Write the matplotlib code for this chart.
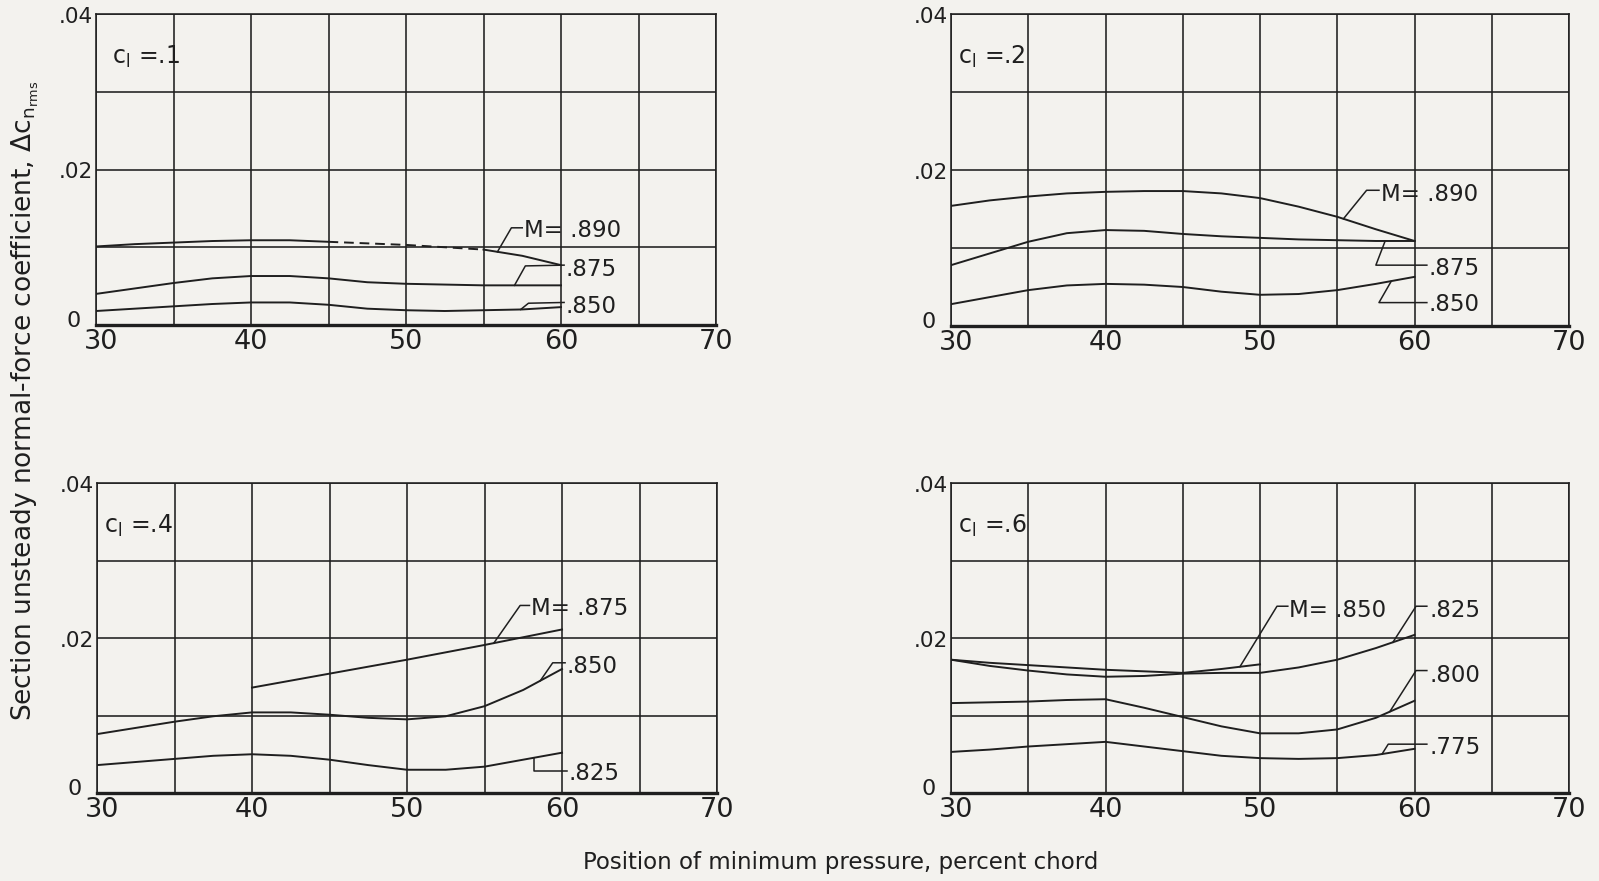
import numpy as np
import matplotlib
matplotlib.use("Agg")
import matplotlib.pyplot as plt
from matplotlib.transforms import blended_transform_factory, ScaledTranslation

plt.rcParams["font.family"] = ["DejaVu Sans"]
plt.rcParams["mathtext.fontset"] = "dejavusans"

# ---- data: position of minimum pressure (percent chord) vs. delta c_n,rms ----
x_pos = [30, 32.5, 35, 37.5, 40, 42.5, 45, 47.5, 50, 52.5, 55, 57.5, 60]

# c_l = .1
cl1_m890 = [.0101, .0104, .0106, .0108, .0109, .0109, .0107, .0105, .0103, .0100, .0097, .0089, .0077]
cl1_m875 = [.0040, .0047, .0054, .0060, .0063, .0063, .0060, .0055, .0053, .0052, .0051, .0051, .0051]
cl1_m850 = [.0018, .0021, .0024, .0027, .0029, .0029, .0026, .0021, .0019, .0018, .0019, .0020, .0023]

# c_l = .2
cl2_m890 = [.0154, .0161, .0166, .0170, .0172, .0173, .0173, .0170, .0164, .0153, .0140, .0124, .0109]
cl2_m875 = [.0078, .0093, .0108, .0119, .0123, .0122, .0118, .0115, .0113, .0111, .0110, .0109, .0109]
cl2_m850 = [.0028, .0037, .0046, .0052, .0054, .0053, .0050, .0044, .0040, .0041, .0046, .0054, .0063]

# c_l = .4
cl4_m875_x = [40, 45, 50, 55, 60]
cl4_m875 = [.0136, .0154, .0172, .0191, .0211]
cl4_m850 = [.0076, .0084, .0092, .0099, .0104, .0104, .0101, .0097, .0095, .0099, .0112, .0133, .0160]
cl4_m825 = [.0036, .0040, .0044, .0048, .0050, .0048, .0043, .0036, .0030, .0030, .0034, .0043, .0052]

# c_l = .6
cl6_m850_x = [30, 32.5, 35, 37.5, 40, 42.5, 45, 47.5, 50]
cl6_m850 = [.0172, .0168, .0165, .0162, .0159, .0157, .0155, .0160, .0166]
cl6_m825 = [.0172, .0164, .0158, .0153, .0150, .0151, .0154, .0155, .0155, .0162, .0172, .0187, .0204]
cl6_m800 = [.0116, .0117, .0118, .0120, .0121, .0110, .0098, .0086, .0077, .0077, .0082, .0097, .0119]
cl6_m775 = [.0053, .0056, .0060, .0063, .0066, .0060, .0054, .0048, .0045, .0044, .0045, .0049, .0057]

panel_titles = ["c$_\\mathregular{l}$ =.1", "c$_\\mathregular{l}$ =.2",
                "c$_\\mathregular{l}$ =.4", "c$_\\mathregular{l}$ =.6"]
x_ticks = [30, 35, 40, 45, 50, 55, 60, 65, 70]
x_tick_labels = ["30", "", "40", "", "50", "", "60", "", "70"]
y_ticks = [0, .01, .02, .03, .04]
y_tick_labels = ["0", "", ".02", "", ".04"]

# ---- styling / layout ----
INK = "#1f1f1f"
PAPER = "#f3f2ee"
W, H = 1599, 881
fig = plt.figure(figsize=(W / 100, H / 100), dpi=100, facecolor=PAPER)


def px(dx, dy):
    return ScaledTranslation(dx / 100, dy / 100, fig.dpi_scale_trans)


# axes rectangles in pixels: left, top, right, bottom
rects = [(96, 14, 716, 325), (951, 14, 1569, 326),
         (97, 483, 717, 793), (951, 483, 1569, 793)]

# series per panel: (x, y, label, label_xy, leader_points, leader_target_x, dashed_span)
panels = [
    [(x_pos, cl1_m890, "M= .890", (57.6, .0122), [(57.5, .0125), (56.8, .0125)], 55.9, (45, 55)),
     (x_pos, cl1_m875, ".875", (60.3, .0071), [(60.2, .0077), (57.7, .0076)], 57.0, None),
     (x_pos, cl1_m850, ".850", (60.3, .0024), [(60.2, .0029), (57.9, .0028)], 57.4, None)],
    [(x_pos, cl2_m890, "M= .890", (57.8, .0168), [(57.7, .0174), (56.9, .0174)], 55.4, None),
     (x_pos, cl2_m875, ".875", (60.9, .0074), [(60.8, .0078), (57.5, .0078)], 58.1, None),
     (x_pos, cl2_m850, ".850", (60.9, .0027), [(60.8, .0030), (57.7, .0030)], 58.5, None)],
    [(cl4_m875_x, cl4_m875, "M= .875", (58.0, .0238), [(57.9, .0242), (57.3, .0242)], 55.6, None),
     (x_pos, cl4_m850, ".850", (60.3, .0163), [(60.2, .0168), (59.4, .0168)], 58.6, None),
     (x_pos, cl4_m825, ".825", (60.4, .0025), [(60.3, .0029), (58.2, .0029)], 58.2, None)],
    [(cl6_m850_x, cl6_m850, "M= .850", (51.9, .0236), [(51.8, .0241), (51.1, .0241)], 48.7, None),
     (x_pos, cl6_m825, ".825", (61.0, .0236), [(60.8, .0241), (60.1, .0241)], 58.6, None),
     (x_pos, cl6_m800, ".800", (61.0, .0152), [(60.8, .0158), (60.1, .0158)], 58.4, None),
     (x_pos, cl6_m775, ".775", (61.0, .0059), [(60.8, .0063), (58.3, .0063)], 57.9, None)],
]
title_x = [31.0, 30.45, 30.45, 30.45]

for i, (l, t, r, b) in enumerate(rects):
    ax = fig.add_axes([l / W, 1 - b / H, (r - l) / W, (b - t) / H])
    ax.set_facecolor("none")
    ax.set_xlim(30, 70)
    ax.set_ylim(0, .04)
    ax.set_xticks(x_ticks)
    ax.set_yticks(y_ticks)
    ax.set_xticklabels([])
    ax.set_yticklabels([])
    ax.tick_params(length=0)
    ax.grid(True, color=INK, lw=1.15)
    ax.set_axisbelow(True)
    for side in ["top", "left", "right"]:
        ax.spines[side].set_color(INK)
        ax.spines[side].set_linewidth(1.15)
    ax.spines["bottom"].set_color(INK)
    ax.spines["bottom"].set_linewidth(2.4)

    # tick labels
    ty = blended_transform_factory(ax.transAxes, ax.transData)
    for v, lab in zip(y_ticks, y_tick_labels):
        if not lab:
            continue
        if v == 0:
            ax.text(0, v, lab, transform=ty + px(-15, 4), ha="right", va="center",
                    fontsize=16, color=INK)
        else:
            ax.text(0, v, lab, transform=ty + px(-3, -3), ha="right", va="center",
                    fontsize=15.5, color=INK)
    tx = blended_transform_factory(ax.transData, ax.transAxes)
    for v, lab in zip(x_ticks, x_tick_labels):
        if not lab:
            continue
        dx = 5 if v == 30 else 0
        ax.text(v, 0, lab, transform=tx + px(dx, -4), ha="center", va="top",
                fontsize=19.5, color=INK)

    ax.text(title_x[i], .0345, panel_titles[i], ha="left", va="center",
            fontsize=17, color=INK)

    for xs, ys, lab, lxy, lead, target_x, dashed in panels[i]:
        xs = np.asarray(xs, float)
        ys = np.asarray(ys, float)
        if dashed is None:
            ax.plot(xs, ys, color=INK, lw=1.4, solid_joinstyle="round")
        else:
            a, bnd = dashed
            m1 = xs <= a
            m2 = (xs >= a) & (xs <= bnd)
            m3 = xs >= bnd
            ax.plot(xs[m1], ys[m1], color=INK, lw=1.4)
            ax.plot(xs[m2], ys[m2], color=INK, lw=1.4, ls=(0, (5, 3)))
            ax.plot(xs[m3], ys[m3], color=INK, lw=1.4)
        # leader line from the label to its curve
        ty_target = np.interp(target_x, xs, ys)
        lx = [p[0] for p in lead] + [target_x]
        ly = [p[1] for p in lead] + [ty_target]
        ax.plot(lx, ly, color=INK, lw=1.1)
        ax.text(lxy[0], lxy[1], lab, ha="left", va="center", fontsize=16.5, color=INK)

fig.text(0.0155, 0.545,
         r"Section unsteady normal-force coefficient, $\Delta\mathregular{c}_{\mathregular{n}_{\mathregular{rms}}}$",
         rotation=90, ha="center", va="center", fontsize=19, color=INK)
fig.text(841 / W, 1 - 862 / H, "Position of minimum pressure, percent chord",
         ha="center", va="center", fontsize=16.5, color=INK)

fig.savefig("out.png", dpi=100, facecolor=PAPER)
